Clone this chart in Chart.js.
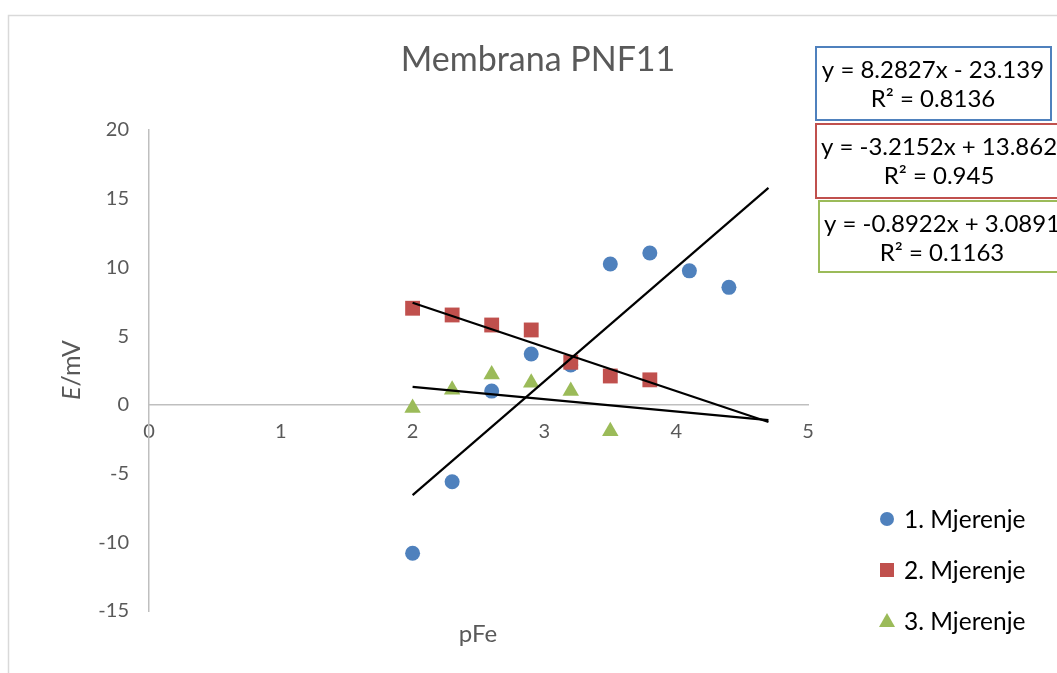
<!DOCTYPE html>
<html>
<head>
<meta charset="utf-8">
<script src="https://cdn.jsdelivr.net/npm/chart.js@4.4.0/dist/chart.umd.min.js"></script>
<style>
  html, body { margin: 0; padding: 0; background: #fff; overflow: hidden; }
  #wrap { width: 1057px; height: 673px; position: relative; }
</style>
</head>
<body>
<div id="wrap"><canvas id="c" width="1057" height="673"></canvas></div>
<script>
// data
const seriesNames = ['1. Mjerenje', '2. Mjerenje', '3. Mjerenje'];
const x1 = [2, 2.3, 2.6, 2.9, 3.2, 3.5, 3.8, 4.1, 4.4];
const y1 = [-10.8, -5.6, 1.0, 3.7, 2.9, 10.25, 11.05, 9.75, 8.55];
const x2 = [2, 2.3, 2.6, 2.9, 3.2, 3.5, 3.8];
const y2 = [7.03, 6.54, 5.81, 5.45, 3.1, 2.1, 1.82];
const x3 = [2, 2.3, 2.6, 2.9, 3.2, 3.5];
const y3 = [-0.22, 1.1, 2.2, 1.6, 1.0, -1.92];
// linear trendlines as printed on the chart
const slopes = [8.2827, -3.2152, -0.8922];
const intercepts = [-23.139, 13.862, 3.0891];
const equations = ['y = 8.2827x - 23.139', 'y = -3.2152x + 13.862', 'y = -0.8922x + 3.0891'];
const rSquared = ['R² = 0.8136', 'R² = 0.945', 'R² = 0.1163'];
const trendFrom = 2;
const trendTo = 4.7;

const colors = ['#4f81bd', '#c0504d', '#9bbb59'];
const FONT = 'Lato, "Open Sans", sans-serif';

function pts(xs, ys) {
  return xs.map((x, i) => ({ x: x, y: ys[i] }));
}
function trend(k) {
  return [trendFrom, trendTo].map(x => ({ x: x, y: slopes[k] * x + intercepts[k] }));
}

const lineSet = k => ({
  data: trend(k), showLine: true, borderColor: '#000', borderWidth: 2.2,
  pointRadius: 0, pointHoverRadius: 0, fill: false
});

// text, boxes and legend drawn on top of the plot
const decor = {
  id: 'decor',
  afterDraw(chart) {
    const ctx = chart.ctx;
    ctx.save();

    // outer chart border
    ctx.strokeStyle = '#d9d9d9';
    ctx.lineWidth = 1.5;
    ctx.strokeRect(8.5, 15.5, 1200, 800);

    // title
    ctx.fillStyle = '#595959';
    ctx.font = '34px ' + FONT;
    ctx.textAlign = 'center';
    ctx.textBaseline = 'middle';
    ctx.fillText('Membrana PNF11', 538, 60);

    // x title
    ctx.font = '24px ' + FONT;
    ctx.fillText('pFe', 478, 634);

    // y title, italic E
    ctx.save();
    ctx.translate(72, 370);
    ctx.rotate(-Math.PI / 2);
    ctx.textAlign = 'left';
    ctx.font = 'italic 25px ' + FONT;
    const wE = ctx.measureText('E').width;
    ctx.font = '25px ' + FONT;
    const wR = ctx.measureText('/mV').width;
    const start = -(wE + wR) / 2;
    ctx.font = 'italic 25px ' + FONT;
    ctx.fillText('E', start, 0);
    ctx.font = '25px ' + FONT;
    ctx.fillText('/mV', start + wE, 0);
    ctx.restore();

    // equation boxes
    const boxes = [
      { l: 816, t: 47, r: 1051, b: 120, cx: 933 },
      { l: 816, t: 124, r: 1070, b: 198, cx: 939 },
      { l: 819, t: 201, r: 1070, b: 272, cx: 942 }
    ];
    ctx.font = '24px ' + FONT;
    ctx.lineWidth = 2;
    boxes.forEach((bx, k) => {
      ctx.strokeStyle = colors[k];
      ctx.strokeRect(bx.l, bx.t, bx.r - bx.l, bx.b - bx.t);
      ctx.fillStyle = '#000';
      ctx.fillText(equations[k], bx.cx, bx.t + 23);
      ctx.fillText(rSquared[k], bx.cx, bx.t + 52);
    });

    // legend
    const ly = [519, 570, 621];
    ctx.textAlign = 'left';
    ctx.font = '24.5px ' + FONT;
    seriesNames.forEach((name, k) => {
      const mx = 887, my = ly[k];
      ctx.fillStyle = colors[k];
      ctx.beginPath();
      if (k === 0) {
        ctx.arc(mx, my, 7, 0, Math.PI * 2);
      } else if (k === 1) {
        ctx.rect(mx - 7, my - 7, 14, 14);
      } else {
        ctx.moveTo(mx, my - 8);
        ctx.lineTo(mx + 8, my + 6);
        ctx.lineTo(mx - 8, my + 6);
        ctx.closePath();
      }
      ctx.fill();
      ctx.fillStyle = '#000';
      ctx.fillText(name, 904, my + 1);
    });

    ctx.restore();
  }
};

new Chart(document.getElementById('c'), {
  type: 'scatter',
  data: {
    datasets: [
      lineSet(0), lineSet(1), lineSet(2),
      { data: pts(x3, y3), pointStyle: 'triangle', pointRadius: 9.5, backgroundColor: colors[2], borderColor: colors[2], borderWidth: 0 },
      { data: pts(x2, y2), pointStyle: 'rect', pointRadius: 10.5, backgroundColor: colors[1], borderColor: colors[1], borderWidth: 0 },
      { data: pts(x1, y1), pointStyle: 'circle', pointRadius: 7.5, backgroundColor: colors[0], borderColor: colors[0], borderWidth: 0 }
    ]
  },
  options: {
    responsive: false,
    animation: false,
    layout: { padding: { left: 89, top: 130, right: 249, bottom: 62 } },
    plugins: { legend: { display: false }, title: { display: false }, tooltip: { enabled: false } },
    scales: {
      x: {
        type: 'linear', min: 0, max: 5, position: { y: 0 },
        ticks: { stepSize: 1, color: '#595959', font: { family: FONT, size: 20 }, padding: 15 },
        grid: { display: false, drawTicks: false },
        border: { display: true, color: '#bfbfbf', width: 1.5 }
      },
      y: {
        type: 'linear', min: -15, max: 20,
        afterFit(scale) { scale.width = 60; },
        ticks: { stepSize: 5, color: '#595959', font: { family: FONT, size: 20 }, padding: 20 },
        grid: { display: false, drawTicks: false },
        border: { display: true, color: '#bfbfbf', width: 1.5 }
      }
    }
  },
  plugins: [decor]
});
</script>
</body>
</html>
